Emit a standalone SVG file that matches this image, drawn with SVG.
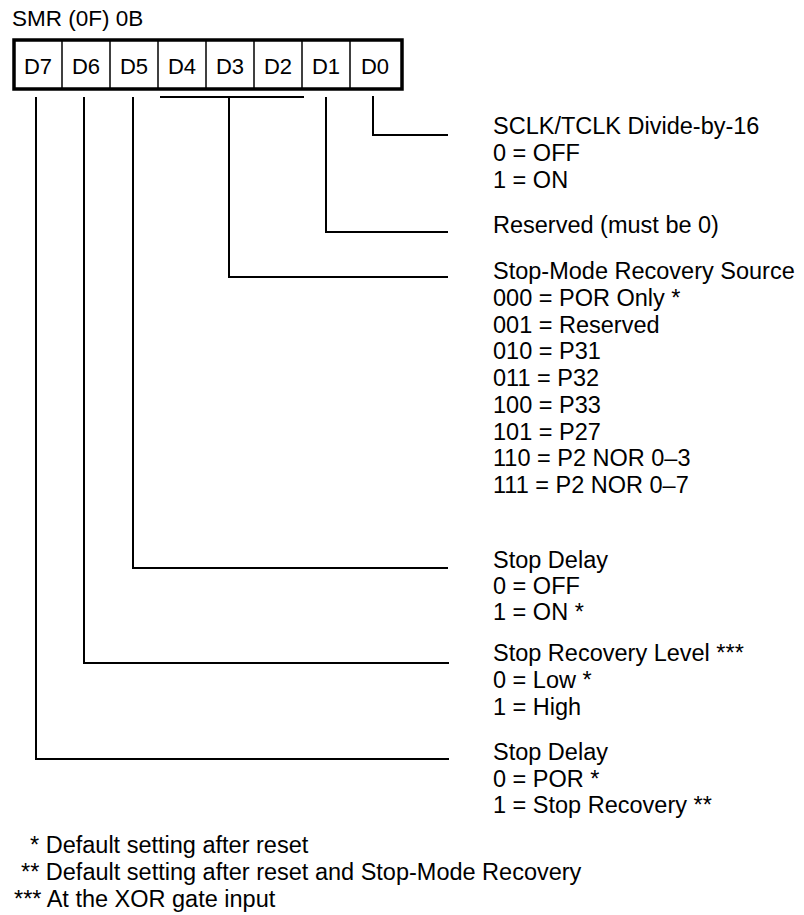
<svg xmlns="http://www.w3.org/2000/svg" width="804" height="915" viewBox="0 0 804 915">
<style>
text { font-family: "Liberation Sans", Arial, sans-serif; font-size: 23.5px; fill: #000; }
.cell { text-anchor: middle; font-size: 22px; }
.ln { stroke: #000; stroke-width: 2; fill: none; }
.box { stroke: #000; stroke-width: 3.5; fill: #fff; }
.div { stroke: #000; stroke-width: 1.5; }
</style>
<rect width="804" height="915" fill="#fff"/>
<g id="register">
<text x="12" y="26" style="font-size:22.5px">SMR (0F) 0B</text>
<rect class="box" x="14" y="40" width="388" height="49"/>
<line class="div" x1="62" y1="40" x2="62" y2="89"/>
<line class="div" x1="110" y1="40" x2="110" y2="89"/>
<line class="div" x1="158" y1="40" x2="158" y2="89"/>
<line class="div" x1="206" y1="40" x2="206" y2="89"/>
<line class="div" x1="254" y1="40" x2="254" y2="89"/>
<line class="div" x1="302" y1="40" x2="302" y2="89"/>
<line class="div" x1="350" y1="40" x2="350" y2="89"/>
<text class="cell" x="38" y="74">D7</text>
<text class="cell" x="86" y="74">D6</text>
<text class="cell" x="134" y="74">D5</text>
<text class="cell" x="182" y="74">D4</text>
<text class="cell" x="230" y="74">D3</text>
<text class="cell" x="278" y="74">D2</text>
<text class="cell" x="326" y="74">D1</text>
<text class="cell" x="375" y="74">D0</text>
</g>
<g id="connectors">
<polyline class="ln" points="373,96 373,135 448,135"/>
<polyline class="ln" points="326,97 326,232 448,232"/>
<line class="ln" x1="160" y1="97" x2="304" y2="97"/>
<polyline class="ln" points="229,97 229,277 448,277"/>
<polyline class="ln" points="133,97 133,568 448,568"/>
<polyline class="ln" points="84,97 84,663 449,663"/>
<polyline class="ln" points="36,97 36,759 449,759"/>
</g>
<g id="d0-label">
<text x="493" y="134">SCLK/TCLK Divide-by-16</text>
<text x="493" y="161">0 = OFF</text>
<text x="493" y="188">1 = ON</text>
</g>
<g id="d1-label">
<text x="493" y="233">Reserved (must be 0)</text>
</g>
<g id="d4d2-label">
<text x="493" y="279">Stop-Mode Recovery Source</text>
<text x="493" y="306">000 = POR Only *</text>
<text x="493" y="333">001 = Reserved</text>
<text x="493" y="359">010 = P31</text>
<text x="493" y="386">011 = P32</text>
<text x="493" y="413">100 = P33</text>
<text x="493" y="440">101 = P27</text>
<text x="493" y="466">110 = P2 NOR 0–3</text>
<text x="493" y="493">111 = P2 NOR 0–7</text>
</g>
<g id="d5-label">
<text x="493" y="568">Stop Delay</text>
<text x="493" y="594">0 = OFF</text>
<text x="493" y="620">1 = ON *</text>
</g>
<g id="d6-label">
<text x="493" y="661">Stop Recovery Level ***</text>
<text x="493" y="688">0 = Low *</text>
<text x="493" y="715">1 = High</text>
</g>
<g id="d7-label">
<text x="493" y="760">Stop Delay</text>
<text x="493" y="787">0 = POR *</text>
<text x="493" y="813">1 = Stop Recovery **</text>
</g>
<g id="footnotes">
<text x="30" y="853">* Default setting after reset</text>
<text x="21" y="880">** Default setting after reset and Stop-Mode Recovery</text>
<text x="14" y="907">*** At the XOR gate input</text>
</g>
</svg>
